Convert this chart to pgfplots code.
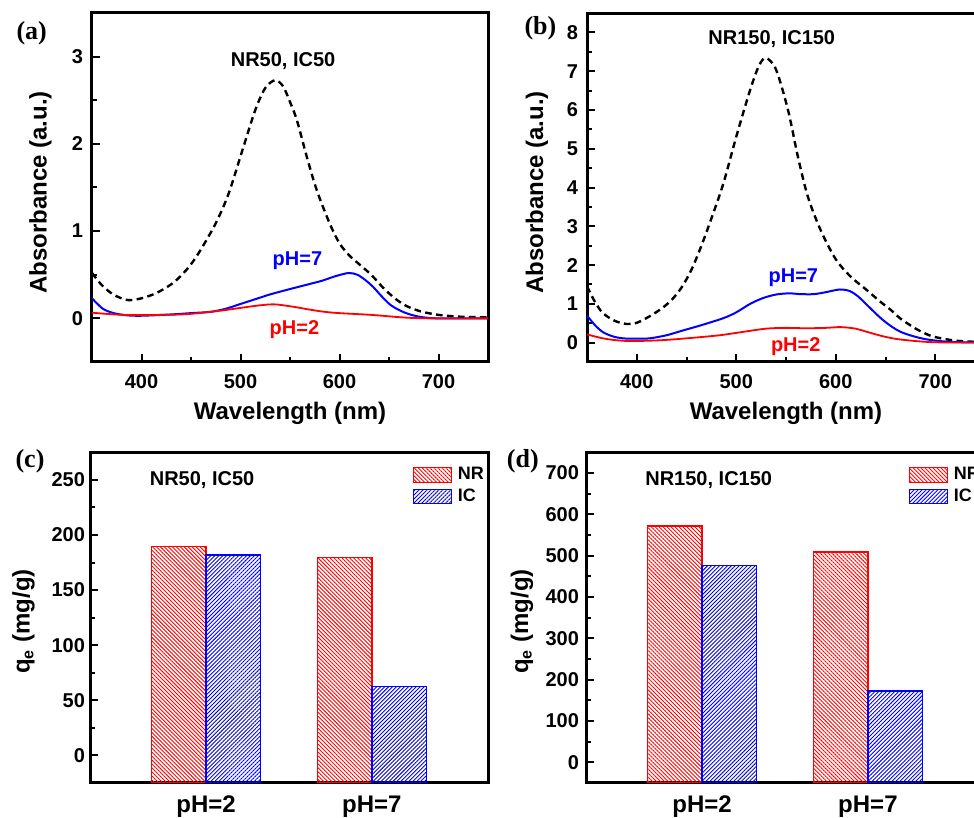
\documentclass[border=0pt]{standalone}
\usepackage{fontspec}
\setmainfont{Liberation Sans}
\newfontfamily\timesf{Liberation Serif}
\usepackage{pgfplots}
\pgfplotsset{compat=1.18}
\usetikzlibrary{patterns.meta}

\pgfplotsset{
 panel/.style={
  scale only axis, anchor=south west,
  axis line style={line width=1.5pt},
  tick align=inside, tick pos=left,
  major tick length=4pt, minor tick length=2.5pt,
  every tick/.style={black,line width=1pt},
  tick label style={font=\bfseries\fontsize{10}{12}\selectfont},
  /pgf/number format/assume math mode=true,
  label style={font=\bfseries\fontsize{12}{14}\selectfont},
  ylabel style={anchor=center},
  xlabel style={anchor=center},
 },
 spec/.style={panel, width=198pt, height=174.5pt,
  xmin=350, xmax=750, xtick={400,500,600,700}, minor xtick={450,550,650},
  xlabel={Wavelength (nm)}, ylabel={Absorbance (a.u.)},
  xticklabel style={yshift=-2.5pt}, yticklabel style={xshift=-1pt},
  xlabel style={at={(axis description cs:0.5,-0.146)}}},
 bars/.style={panel, width=199pt, height=165.35pt,
  xmin=0.3, xmax=2.7, xtick={1,2}, xticklabels={pH=2,pH=7},
  xtick style={draw=none},
  xticklabel style={font=\bfseries\fontsize{12}{14}\selectfont, yshift=-3pt},
  ylabel={q\textsubscript{e} (mg/g)},
  legend image code/.code={\draw[##1, line width=0.6pt] (0pt,-3.6pt) rectangle (19pt,3.6pt);},
  legend style={draw=none, fill=none, at={(0.81,0.962)}, anchor=north west, inner sep=0pt,
    font=\bfseries\fontsize{9}{10}\selectfont, row sep=1pt,
    nodes={inner sep=1pt},
    /tikz/every odd column/.append style={column sep=2pt}},
  legend cell align=left},
 nr/.style={draw=red, line width=0.6pt, pattern={Lines[angle=-45,distance=1.4pt,line width=0.45pt]}, pattern color=red},
 ic/.style={draw=blue, line width=0.6pt, pattern={Lines[angle=45,distance=1.4pt,line width=0.45pt]}, pattern color=blue},
 blk/.style={black, line width=1.2pt, dash pattern=on 3.3pt off 2.2pt, smooth},
 blu/.style={blue, line width=1pt, smooth},
 rd/.style={red, line width=0.9pt, smooth},
}

\begin{document}
\begin{tikzpicture}
\useasboundingbox (0,0) rectangle (487pt,409pt);
\clip (0,0) rectangle (487pt,409pt);

% (a)
\begin{axis}[spec, at={(46pt,228pt)}, ymin=-0.5, ymax=3.5, ytick={0,1,2,3},
  minor ytick={0.5,1.5,2.5}, ylabel style={at={(axis description cs:-0.13,0.486)}}]
\addplot[blk] table {
350 0.52
360 0.38
372 0.27
386 0.21
400 0.23
415 0.29
430 0.39
440 0.49
450 0.62
460 0.79
475 1.09
488 1.43
502 1.93
515 2.39
525 2.64
535 2.73
543 2.66
550 2.48
557 2.27
567 1.85
577 1.47
590 1.09
600 0.86
610 0.72
620 0.62
632 0.50
645 0.34
657 0.22
668 0.14
682 0.08
700 0.04
720 0.02
750 0.01
};
\addplot[blu] table {
350 0.23
361 0.11
372 0.06
385 0.035
400 0.03
430 0.045
450 0.06
470 0.075
485 0.11
500 0.165
515 0.22
530 0.275
548 0.33
565 0.38
582 0.43
595 0.48
609 0.52
618 0.50
626 0.44
634 0.36
642 0.26
652 0.15
665 0.07
680 0.02
700 0.0
750 0.0
};
\addplot[rd] table {
350 0.065
381 0.04
420 0.04
448 0.05
481 0.09
500 0.12
520 0.15
535 0.16
555 0.13
570 0.10
585 0.075
600 0.06
632 0.04
665 0.01
690 0.0
750 0.0
};
\node[font=\bfseries\fontsize{10}{12}\selectfont] at (axis cs:543,2.95) {NR50, IC50};
\node[font=\bfseries\fontsize{10}{12}\selectfont, text=blue] at (axis cs:557.5,0.66) {pH=7};
\node[font=\bfseries\fontsize{10}{12}\selectfont, text=red] at (axis cs:554.5,-0.134) {pH=2};
\end{axis}

% (b)
\begin{axis}[spec, width=199pt, at={(293.5pt,228pt)}, ymin=-0.5, ymax=8.5, ytick={0,1,...,8},
  minor ytick={0.5,1.5,...,7.5}, ylabel style={at={(axis description cs:-0.126,0.486)}}]
\addplot[blk] table {
350 1.45
358 1.05
366 0.76
378 0.56
390 0.48
400 0.51
413 0.68
425 0.88
435 1.10
445 1.42
455 1.88
465 2.50
475 3.20
487 4.10
500 5.31
514 6.52
523 7.15
530 7.34
540 7.04
552 6.0
562 4.79
572 3.76
585 2.89
600 2.15
615 1.70
630 1.38
645 1.05
655 0.85
665 0.62
681 0.35
695 0.18
710 0.09
725 0.04
750 0.01
};
\addplot[blu] table {
350 0.70
358 0.45
366 0.27
376 0.16
386 0.11
400 0.10
413 0.11
430 0.19
446 0.31
465 0.45
487 0.63
500 0.78
514 1.0
527 1.15
540 1.24
553 1.27
565 1.25
578 1.25
590 1.30
604 1.37
614 1.33
623 1.18
631 0.98
648 0.57
665 0.28
688 0.10
714 0.02
750 0.0
};
\addplot[rd] table {
350 0.21
366 0.11
380 0.06
396 0.04
430 0.07
480 0.18
505 0.27
530 0.36
550 0.38
570 0.37
590 0.38
605 0.40
620 0.36
631 0.28
648 0.16
665 0.08
698 0.01
750 0.0
};
\node[font=\bfseries\fontsize{10}{12}\selectfont] at (axis cs:535.7,7.82) {NR150, IC150};
\node[font=\bfseries\fontsize{10}{12}\selectfont, text=blue] at (axis cs:557.4,1.68) {pH=7};
\node[font=\bfseries\fontsize{10}{12}\selectfont, text=red] at (axis cs:559.8,-0.10) {pH=2};
\end{axis}

% (c)
\begin{axis}[bars, at={(45pt,17.5pt)}, ymin=-25, ymax=275, ytick={0,50,...,250},
  minor ytick={25,75,...,225}, yticklabel style={xshift=1pt},
  ylabel style={at={(axis description cs:-0.167,0.488)}}]
\addplot[nr] coordinates {(0.672,-25) (0.672,189.5) (1,189.5) (1,-25)} -- cycle;
\addlegendentry{NR}
\addplot[ic] coordinates {(1,-25) (1,181.8) (1.328,181.8) (1.328,-25)} -- cycle;
\addlegendentry{IC}
\addplot[nr, forget plot] coordinates {(1.672,-25) (1.672,179.7) (2,179.7) (2,-25)} -- cycle;
\addplot[ic, forget plot] coordinates {(2,-25) (2,62.7) (2.328,62.7) (2.328,-25)} -- cycle;
\node[font=\bfseries\fontsize{10}{12}\selectfont] at (axis cs:0.976,250) {NR50, IC50};
\end{axis}

% (d)
\begin{axis}[bars, at={(293pt,17.5pt)}, ymin=-50, ymax=750, ytick={0,100,...,700},
  minor ytick={50,150,...,650},
  ylabel style={at={(axis description cs:-0.161,0.488)}}]
\addplot[nr] coordinates {(0.672,-50) (0.672,571.6) (1,571.6) (1,-50)} -- cycle;
\addlegendentry{NR}
\addplot[ic] coordinates {(1,-50) (1,475.4) (1.328,475.4) (1.328,-50)} -- cycle;
\addlegendentry{IC}
\addplot[nr, forget plot] coordinates {(1.672,-50) (1.672,508.6) (2,508.6) (2,-50)} -- cycle;
\addplot[ic, forget plot] coordinates {(2,-50) (2,172.7) (2.328,172.7) (2.328,-50)} -- cycle;
\node[font=\bfseries\fontsize{10}{12}\selectfont] at (axis cs:1.04,682) {NR150, IC150};
\end{axis}

\node[font=\timesf\bfseries\fontsize{13}{15}\selectfont] at (15.85pt,392.3pt) {(a)};
\node[font=\timesf\bfseries\fontsize{13}{15}\selectfont] at (270.2pt,395pt) {(b)};
\node[font=\timesf\bfseries\fontsize{13}{15}\selectfont] at (15pt,178.25pt) {(c)};
\node[font=\timesf\bfseries\fontsize{13}{15}\selectfont] at (261.4pt,178.25pt) {(d)};
\end{tikzpicture}
\end{document}
